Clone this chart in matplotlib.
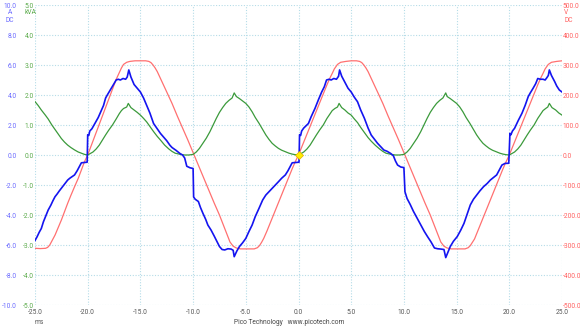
import matplotlib
matplotlib.use("Agg")
import matplotlib.pyplot as plt

plt.rcParams['font.family'] = ['Roboto', 'DejaVu Sans']

# ---- datos (osciloscopio, 50 Hz) ----
# corriente [A]
t_amp = [-25.0, -24.8, -24.6, -24.4, -24.2, -24.0, -23.75, -23.5, -23.3, -23.1, -22.9, -22.7, -22.5, -22.3,
         -22.1, -21.9, -21.7, -21.5, -21.25, -21.0, -20.8, -20.6, -20.3, -20.05,
         -20.0, -19.9, -19.8, -19.6, -19.4, -19.2, -19.0, -18.75, -18.5, -18.3, -18.1, -17.8, -17.55, -17.3,
         -17.1, -16.9, -16.65, -16.4, -16.25, -16.1, -15.9, -15.6, -15.3, -15.0, -14.7, -14.4, -14.1, -13.75,
         -13.4, -13.1, -12.8, -12.5, -12.2, -12.0, -11.6, -11.25, -11.0, -10.8, -10.6, -10.3, -10.0,
         -9.95, -9.8, -9.5, -9.3, -9.06, -8.8, -8.6, -8.3, -8.0, -7.75, -7.5, -7.25, -7.0, -6.7, -6.4, -6.2,
         -6.1, -5.85, -5.6, -5.3, -5.0, -4.7, -4.4, -4.1, -3.75, -3.4, -3.1, -2.8, -2.5, -2.2, -1.9, -1.6,
         -1.25, -1.0, -0.8, -0.6, -0.3, 0.05,
         0.1, 0.2, 0.3, 0.5, 0.94, 1.2, 1.56, 1.9, 2.2, 2.45, 2.66, 2.9, 3.1, 3.35, 3.6, 3.8, 3.9, 4.1, 4.4,
         4.7, 5.0, 5.3, 5.6, 5.9, 6.25, 6.6, 6.9, 7.2, 7.5, 7.8, 8.1, 8.4, 8.75, 9.0, 9.2, 9.4, 9.7, 10.0,
         10.1, 10.3, 10.6, 10.9, 11.25, 11.6, 11.94, 12.25, 12.56, 12.9, 13.2, 13.5, 13.8, 13.97, 14.2, 14.4,
         14.7, 15.06, 15.4, 15.7, 16.0, 16.3, 16.6, 16.9, 17.2, 17.56, 17.9, 18.2, 18.5, 18.8, 19.05, 19.3,
         19.6, 19.95,
         20.06, 20.15, 20.3, 20.5, 20.85, 21.2, 21.5, 21.8, 22.0, 22.25, 22.5, 22.7, 22.95, 23.2, 23.4, 23.56,
         23.7, 23.8, 24.0, 24.3, 24.5, 24.75, 25.0]
amp = [-5.70, -5.45, -5.15, -4.90, -4.45, -4.10, -3.67, -3.35, -3.05, -2.78, -2.60, -2.40, -2.22, -2.05,
       -1.85, -1.67, -1.55, -1.45, -1.33, -1.05, -0.78, -0.52, -0.50, -0.48,
       1.35, 1.30, 1.60, 1.75, 2.00, 2.25, 2.50, 2.90, 3.30, 3.80, 4.05, 4.40, 4.70, 5.00,
       5.05, 5.00, 5.10, 5.05, 5.20, 5.67, 5.20, 4.70, 4.45, 4.20, 3.80, 3.30, 2.80, 2.10,
       1.75, 1.44, 1.20, 0.95, 0.65, 0.50, 0.30, 0.10, 0.00, -0.20, -0.75, -0.85, -0.90,
       -2.80, -2.95, -3.10, -3.50, -3.90, -4.30, -4.67, -5.00, -5.40, -5.75, -6.10, -6.30, -6.33, -6.25, -6.27, -6.35,
       -6.78, -6.40, -6.10, -5.85, -5.56, -5.10, -4.67, -4.10, -3.56, -3.00, -2.67, -2.45, -2.22, -2.00, -1.78, -1.55,
       -1.33, -1.05, -0.78, -0.52, -0.50, -0.48,
       1.35, 1.30, 1.60, 1.80, 2.10, 2.55, 3.10, 3.70, 4.20, 4.55, 5.00, 5.05, 5.00, 5.10, 5.05, 5.25, 5.67, 5.25, 4.85,
       4.45, 4.20, 3.85, 3.55, 3.00, 2.45, 1.80, 1.33, 1.05, 0.78, 0.55, 0.33, 0.25, 0.10, -0.05, -0.40, -0.67, -0.80, -0.84,
       -2.45, -2.90, -3.30, -3.75, -4.20, -4.65, -5.10, -5.45, -5.78, -6.20, -6.25, -6.27, -6.30, -6.84, -6.45, -6.10,
       -5.75, -5.44, -5.00, -4.56, -3.95, -3.33, -2.95, -2.67, -2.40, -2.11, -1.90, -1.67, -1.50, -1.33, -1.00, -0.67,
       -0.56, -0.55,
       1.44, 1.35, 1.60, 1.78, 2.30, 2.78, 3.30, 3.90, 4.15, 4.44, 4.75, 5.10, 5.05, 5.05, 5.00, 5.15,
       5.30, 5.67, 5.30, 4.90, 4.60, 4.33, 4.20]

# potencia aparente [kVA]
t_pot = [-25.0, -24.7, -24.4, -24.0, -23.75, -23.4, -23.1, -22.8, -22.5, -22.2, -21.9, -21.6, -21.25, -20.9,
         -20.6, -20.3, -20.0, -19.75, -19.5, -19.2, -18.9, -18.6, -18.3, -18.0, -17.65, -17.3, -17.0, -16.8,
         -16.6, -16.3, -16.15, -15.9, -15.6, -15.3, -15.0, -14.7, -14.4, -14.1, -13.75, -13.4, -13.1, -12.7,
         -12.3, -12.0, -11.7, -11.2, -10.8, -10.4, -10.0, -9.7, -9.4, -9.1, -8.75, -8.4, -8.1, -7.8, -7.5,
         -7.2, -6.9, -6.6, -6.3, -6.1, -5.9, -5.6, -5.3, -5.0, -4.7, -4.4, -4.1, -3.75, -3.4, -3.1, -2.8,
         -2.5, -2.2, -1.9, -1.6, -1.25, -0.9, -0.6, -0.3, 0.0,
         0.25, 0.5, 0.8, 1.1, 1.4, 1.7, 2.0, 2.35, 2.7, 3.0, 3.2, 3.45, 3.7, 3.85, 4.1, 4.4, 4.7, 5.0, 5.3,
         5.6, 5.9, 6.25, 6.6, 6.9, 7.3, 7.7, 8.0, 8.3, 8.8, 9.2, 9.6, 10.0, 10.3, 10.6, 10.9, 11.25, 11.6,
         11.9, 12.2, 12.5, 12.8, 13.1, 13.4, 13.7, 13.97, 14.1, 14.4, 14.7, 15.0, 15.3, 15.6, 15.9, 16.25,
         16.6, 16.9, 17.2, 17.5, 17.8, 18.1, 18.4, 18.75, 19.1, 19.4, 19.7, 20.0, 20.25, 20.5, 20.8, 21.1,
         21.4, 21.7, 22.0, 22.35, 22.7, 23.0, 23.2, 23.45, 23.65, 23.8, 24.05, 24.4, 24.7, 25.0]
pot = [1.78, 1.65, 1.50, 1.32, 1.20, 1.00, 0.85, 0.70, 0.55, 0.43, 0.33, 0.25, 0.17, 0.10,
       0.06, 0.02, 0.00, 0.05, 0.10, 0.20, 0.33, 0.50, 0.67, 0.83, 1.00, 1.20, 1.38, 1.48,
       1.55, 1.60, 1.72, 1.58, 1.50, 1.42, 1.33, 1.22, 1.10, 0.95, 0.78, 0.62, 0.50, 0.33,
       0.20, 0.12, 0.06, 0.02, 0.00, 0.00, 0.02, 0.10, 0.22, 0.38, 0.56, 0.78, 1.00, 1.22, 1.42,
       1.58, 1.72, 1.82, 1.90, 2.07, 1.95, 1.88, 1.80, 1.72, 1.60, 1.44, 1.25, 1.06, 0.85, 0.67, 0.52,
       0.39, 0.30, 0.22, 0.16, 0.11, 0.06, 0.03, 0.01, 0.00,
       0.05, 0.10, 0.20, 0.33, 0.50, 0.67, 0.83, 1.00, 1.22, 1.38, 1.48, 1.55, 1.60, 1.72, 1.58, 1.50, 1.40, 1.33, 1.20,
       1.08, 0.92, 0.75, 0.58, 0.46, 0.32, 0.20, 0.12, 0.06, 0.02, 0.00, 0.00, 0.02, 0.10, 0.22, 0.38, 0.56, 0.78,
       1.00, 1.22, 1.42, 1.58, 1.72, 1.82, 1.90, 2.07, 1.95, 1.88, 1.80, 1.72, 1.60, 1.44, 1.25, 1.06,
       0.85, 0.67, 0.52, 0.39, 0.30, 0.22, 0.16, 0.11, 0.06, 0.03, 0.01, 0.00, 0.05, 0.10, 0.20, 0.33,
       0.50, 0.67, 0.83, 1.00, 1.22, 1.38, 1.48, 1.55, 1.60, 1.72, 1.58, 1.50, 1.40, 1.33]

# tension [V]
t_volt = [-25.0, -24.5, -24.0, -23.8, -23.6, -23.4, -23.1, -22.8, -22.5, -22.2, -21.9, -21.6, -21.25, -20.9,
          -20.6, -20.3, -20.0, -19.7, -19.4, -19.1, -18.8, -18.5, -18.2, -17.9, -17.6, -17.3, -17.0, -16.8,
          -16.6, -16.3, -16.0, -15.5, -15.0, -14.5, -14.2, -14.0, -13.8, -13.6, -13.4, -13.0, -12.5, -12.0,
          -11.5, -11.0, -10.5, -10.0, -9.5, -9.0, -8.5, -8.0, -7.5, -7.0, -6.7, -6.5, -6.2, -5.9, -5.5,
          -5.0, -4.2, -3.9, -3.7, -3.5, -3.3, -3.0, -2.7, -2.4, -2.1, -1.8, -1.5, -1.2, -0.9, -0.6, -0.3, 0.0,
          0.3, 0.6, 0.9, 1.2, 1.5, 1.8, 2.1, 2.4, 2.7, 3.0, 3.2, 3.4, 3.7, 4.0, 4.5, 5.0, 5.5, 5.8, 6.0,
          6.2, 6.4, 6.6, 7.0, 7.5, 8.0, 8.5, 9.0, 9.5, 10.0, 10.5, 11.0, 11.5, 12.0, 12.5, 13.0, 13.3, 13.5,
          13.8, 14.1, 14.5, 15.0, 15.8, 16.1, 16.3, 16.5, 16.7, 17.0, 17.3, 17.6, 17.9, 18.2, 18.5, 18.8,
          19.1, 19.4, 19.7, 20.0, 20.3, 20.6, 20.9, 21.2, 21.5, 21.8, 22.1, 22.4, 22.7, 23.0, 23.2, 23.4,
          23.7, 24.0, 24.5, 25.0]
volt = [-311, -312, -311, -308, -300, -287, -267, -242, -217, -189, -161, -135, -106, -78,
        -50, -22, 0, 28, 56, 84, 112, 140, 168, 196, 224, 252, 275, 290,
        302, 309, 312, 314, 314, 314, 312, 308, 300, 290, 278, 248, 210, 172,
        130, 90, 50, 8, -34, -76, -118, -160, -200, -245, -272, -290, -304, -310, -313,
        -313, -313, -309, -302, -291, -278, -254, -228, -202, -176, -150, -124, -98, -72, -46, -22, 0,
        26, 52, 78, 104, 130, 156, 182, 208, 234, 258, 272, 287, 302, 309, 312, 314, 314, 312, 308,
        300, 290, 278, 248, 210, 172, 130, 90, 50, 8, -34, -76, -118, -160, -200, -245, -272, -290,
        -304, -310, -313, -313, -313, -309, -302, -291, -280, -254, -228, -202, -176, -150, -124, -98,
        -72, -46, -22, 0, 26, 52, 78, 104, 130, 156, 182, 208, 234, 258, 272, 287,
        302, 309, 312, 314]

x_ticks = [-25, -20, -15, -10, -5, 0, 5, 10, 15, 20, 25]
a_ticks = [-10, -8, -6, -4, -2, 0, 2, 4, 6, 8, 10]
k_ticks = [-5, -4, -3, -2, -1, 0, 1, 2, 3, 4, 5]
v_ticks = [-500, -400, -300, -200, -100, 0, 100, 200, 300, 400, 500]

col_a = '#1414f0'
col_a_txt = '#6b6bff'
col_k = '#3b9a3b'
col_k_txt = '#5aaa4a'
col_v = '#ff7070'
col_v_txt = '#ff6060'
fs = 4.8

fig = plt.figure(figsize=(5.8, 3.26), dpi=100)
ax_v = fig.add_axes([35 / 580, 21 / 326, 527 / 580, 300 / 326])
ax_k = ax_v.twinx()
ax_a = ax_v.twinx()

# rejilla punteada celeste
ax_v.set_xlim(-25, 25)
ax_v.set_ylim(-500, 500)
ax_v.set_xticks(x_ticks)
ax_v.set_yticks(v_ticks)
ax_v.grid(True, color='#b5dce8', linestyle=(0, (1, 1.5)), linewidth=0.8)
ax_v.plot(t_volt, volt, color=col_v, linewidth=0.9)

ax_k.set_ylim(-5, 5)
ax_k.set_yticks(k_ticks)
ax_k.plot(t_pot, pot, color=col_k, linewidth=0.9)

ax_a.set_ylim(-10, 10)
ax_a.set_yticks(a_ticks)
ax_a.plot(t_amp, amp, color=col_a, linewidth=1.2)
ax_a.plot([0], [0], marker='D', markersize=4, color='#ffee00', markeredgecolor='#e0b000', markeredgewidth=0.5)

for ax in (ax_v, ax_k, ax_a):
    for s in ax.spines.values():
        s.set_visible(False)

ax_v.tick_params(axis='x', length=0, pad=3, labelsize=fs, labelcolor='#555555')
ax_v.set_xticklabels([f'{v:.1f}' for v in x_ticks])
ax_v.yaxis.tick_right()
ax_v.tick_params(axis='y', length=0, pad=0.5, labelsize=fs, labelcolor=col_v_txt)
ax_v.set_yticklabels([f'{v:.1f}' for v in v_ticks])

ax_k.yaxis.tick_left()
ax_k.tick_params(axis='y', length=0, pad=1, labelsize=fs, labelcolor=col_k_txt)
ax_k.set_yticklabels([f'{v:.1f}' for v in k_ticks])

ax_a.yaxis.tick_left()
ax_a.tick_params(axis='y', length=0, pad=13, labelsize=fs, labelcolor=col_a_txt)
ax_a.set_yticklabels([f'{v:.1f}' for v in a_ticks])

# unidades
fig.text(10 / 580, 1 - 13 / 326, 'A', fontsize=fs, color=col_a_txt, ha='center', va='center')
fig.text(10 / 580, 1 - 21 / 326, 'DC', fontsize=fs, color=col_a_txt, ha='center', va='center')
fig.text(30 / 580, 1 - 13 / 326, 'kVA', fontsize=fs, color=col_k_txt, ha='center', va='center')
fig.text(566 / 580, 1 - 13 / 326, 'V', fontsize=fs, color=col_v_txt, ha='center', va='center')
fig.text(569 / 580, 1 - 21 / 326, 'DC', fontsize=fs, color=col_v_txt, ha='center', va='center')
fig.text(39 / 580, 1 - 322 / 326, 'ms', fontsize=fs, color='#555555', ha='center', va='center')
fig.text(289 / 580, 1 - 322 / 326, 'Pico Technology   www.picotech.com', fontsize=fs,
         color='#444444', ha='center', va='center')

fig.savefig('out.png', dpi=100)
